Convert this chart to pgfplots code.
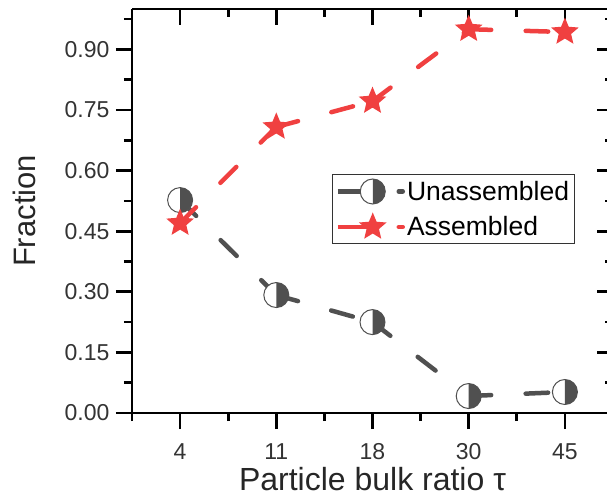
\documentclass[border=0pt]{standalone}
\usepackage{pgfplots}
\pgfplotsset{compat=1.18}
\usepackage{fontspec}
\setmainfont{Liberation Sans}
\definecolor{graycol}{RGB}{80,80,80}
\definecolor{redcol}{RGB}{240,64,64}

\pgfdeclareplotmark{halfc}{%
  \pgfsetdash{}{0pt}%
  \pgfpathcircle{\pgfpointorigin}{\pgfplotmarksize}%
  \pgfsetfillcolor{white}\pgfusepath{fill}%
  \pgfpathmoveto{\pgfpoint{0pt}{-\pgfplotmarksize}}%
  \pgfpatharc{-90}{90}{\pgfplotmarksize}%
  \pgfpathclose
  \pgfsetfillcolor{graycol}\pgfusepath{fill}%
  \pgfpathcircle{\pgfpointorigin}{\pgfplotmarksize}%
  \pgfsetlinewidth{1pt}\pgfsetstrokecolor{graycol}\pgfusepath{stroke}%
}
\pgfdeclareplotmark{fstar}{%
  \pgfsetdash{}{0pt}%
  \pgfpathmoveto{\pgfpointpolar{90}{\pgfplotmarksize}}%
  \pgfpathlineto{\pgfpointpolar{126}{0.45\pgfplotmarksize}}%
  \pgfpathlineto{\pgfpointpolar{162}{\pgfplotmarksize}}%
  \pgfpathlineto{\pgfpointpolar{198}{0.45\pgfplotmarksize}}%
  \pgfpathlineto{\pgfpointpolar{234}{\pgfplotmarksize}}%
  \pgfpathlineto{\pgfpointpolar{270}{0.45\pgfplotmarksize}}%
  \pgfpathlineto{\pgfpointpolar{306}{\pgfplotmarksize}}%
  \pgfpathlineto{\pgfpointpolar{342}{0.45\pgfplotmarksize}}%
  \pgfpathlineto{\pgfpointpolar{18}{\pgfplotmarksize}}%
  \pgfpathlineto{\pgfpointpolar{54}{0.45\pgfplotmarksize}}%
  \pgfpathclose
  \pgfsetfillcolor{redcol}\pgfusepath{fill}%
}

\pgfplotsset{
  common/.style={
    scale only axis, width=481pt, height=404pt,
    xmin=-0.5, xmax=4.5, ymin=0, ymax=1,
    xtick={0,1,2,3,4},
    ytick={0,0.15,0.3,0.45,0.6,0.75,0.9},
    minor xtick={-0.5,0.5,1.5,2.5,3.5},
    minor ytick={0.075,0.225,0.375,0.525,0.675,0.825,0.975},
    major tick length=16pt, minor tick length=8pt,
    every tick/.style={black, line width=2.7pt},
    axis line style={black, line width=2.7pt, -},
  }
}

\begin{document}
\begin{tikzpicture}
\begin{axis}[common,
  axis x line*=top, axis y line*=right, tick align=inside,
  xticklabels={}, yticklabels={},
]
\addplot[draw=none] coordinates {(0,0)};
\end{axis}
\begin{axis}[common,
  axis x line*=bottom, axis y line*=left, tick align=outside,
  xticklabels={4,11,18,30,45},
  /pgf/number format/assume math mode=true,
  yticklabel style={/pgf/number format/.cd, fixed, fixed zerofill, precision=2, /tikz/.cd, xshift=-3pt},
  xticklabel style={yshift=-11pt},
  tick label style={font=\fontsize{23}{27}\selectfont, text=black!80},
  every axis x label/.style={at={(rel axis cs:0.5,0)}, yshift=-77pt, anchor=base, inner sep=0pt, font=\fontsize{32}{36}\selectfont, text=black!85},
  every axis y label/.style={at={(rel axis cs:0,0.5)}, xshift=-96pt, anchor=base, rotate=90, font=\fontsize{31}{35}\selectfont, text=black!85},
  xlabel={Particle bulk ratio τ},
  ylabel={Fraction},
  legend style={at={(0.4158,0.5916)}, anchor=north west, draw=black!80, line width=1pt,
    font=\fontsize{26.5}{30}\selectfont, text=black, inner xsep=3pt, inner ysep=4pt, row sep=8pt},
  legend cell align=left,
]
% Unassembled line
\addplot[forget plot, graycol, line width=4.5pt, line cap=round, dash pattern=on 22.5pt off 34.5pt, unbounded coords=jump]
  coordinates {(0,0.527)(1,0.292)(1,nan)(1,0.292)(2,0.225)(2,nan)(2,0.225)(3,0.042)(3,nan)(3,0.042)(4,0.052)};
\addplot[only marks, mark=halfc, mark size=12.5pt,
  legend image code/.code={
    \draw[graycol, line width=4.5pt, line cap=butt] (0pt,0pt) -- (35pt,0pt);
    \draw[graycol, line width=4.5pt, line cap=round] (61pt,0pt) -- (65pt,0pt);
    \draw[graycol] plot[only marks, mark=halfc, mark size=12.5pt] coordinates {(35pt,0pt)};
  }]
  coordinates {(0,0.527)(1,0.292)(2,0.225)(3,0.042)(4,0.052)};
\addlegendentry{Unassembled}
% Assembled line
\addplot[forget plot, redcol, line width=4.5pt, line cap=round, dash pattern=on 22.5pt off 34.5pt, unbounded coords=jump]
  coordinates {(0,0.470)(1,0.708)(1,nan)(1,0.708)(2,0.772)(2,nan)(2,0.772)(3,0.950)(3,nan)(3,0.950)(4,0.943)};
\addplot[only marks, mark=fstar, mark size=14.5pt,
  legend image code/.code={
    \draw[redcol, line width=4.5pt, line cap=butt] (0pt,0pt) -- (35pt,0pt);
    \draw[redcol, line width=4.5pt, line cap=round] (61pt,0pt) -- (65pt,0pt);
    \draw[redcol] plot[only marks, mark=fstar, mark size=14.5pt] coordinates {(35pt,0pt)};
  }]
  coordinates {(0,0.470)(1,0.708)(2,0.772)(3,0.950)(4,0.943)};
\addlegendentry{Assembled}
\end{axis}
\pgfresetboundingbox
\useasboundingbox (-132pt,-85pt) rectangle (475pt,413pt);
\end{tikzpicture}
\end{document}
